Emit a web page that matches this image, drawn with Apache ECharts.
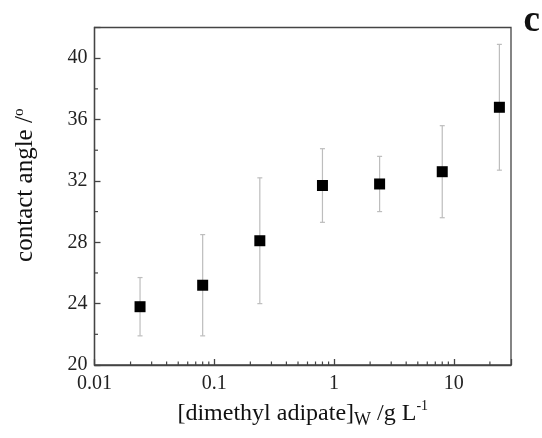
<!DOCTYPE html>
<html>
<head>
<meta charset="utf-8">
<script src="https://cdn.jsdelivr.net/npm/echarts@6/dist/echarts.min.js"></script>
<style>html,body{margin:0;padding:0;background:#fff;}#c{width:542px;height:438px;}</style>
</head>
<body>
<div id="c"></div>
<script>
// Data
const concentrations = [0.024, 0.08, 0.24, 0.8, 2.4, 8, 24];
const contactAngle  = [23.8, 25.2, 28.1, 31.7, 31.8, 32.6, 36.8];
const errLow        = [21.9, 21.9, 24.0, 29.3, 30.0, 29.6, 32.7];
const errHigh       = [25.7, 28.5, 32.2, 34.1, 33.6, 35.6, 40.9];
const xTickLabels   = ['0.01', '0.1', '1', '10'];
const yTickLabels   = ['20', '24', '28', '32', '36', '40'];
const xMinorTicks   = [0.02,0.03,0.04,0.05,0.06,0.07,0.08,0.09,
                       0.2,0.3,0.4,0.5,0.6,0.7,0.8,0.9,
                       2,3,4,5,6,7,8,9,20];
const yMinorTicks   = [22, 26, 30, 34, 38];

const serif = 'Liberation Serif';
const axisColor = '#444';

const chart = echarts.init(document.getElementById('c'), null, {renderer: 'canvas'});

const pointData = concentrations.map((x, i) => [x, contactAngle[i]]);
const errData = concentrations.map((x, i) => [x, errLow[i], errHigh[i]]);

const option = {
  animation: false,
  backgroundColor: '#fff',
  grid: {
    left: 94.5, right: 31, top: 27.5, bottom: 73,
    show: true, borderColor: axisColor, borderWidth: 1.3, backgroundColor: 'transparent'
  },
  xAxis: {
    type: 'log',
    logBase: 10,
    min: 0.01,
    max: 30,
    name: '[dimethyl adipate]{sub|W} /g L{sup|-1}',
    nameLocation: 'middle',
    nameGap: 34,
    nameTextStyle: {
      fontFamily: serif, fontSize: 24, color: '#111', lineHeight: 30, verticalAlign: 'middle',
      rich: {
        sub: {fontFamily: serif, fontSize: 18, color: '#111', lineHeight: 16, verticalAlign: 'bottom'},
        sup: {fontFamily: serif, fontSize: 14, color: '#111', lineHeight: 16, verticalAlign: 'top'}
      }
    },
    axisLine: {lineStyle: {color: axisColor, width: 1.3}},
    axisTick: {inside: true, length: 6, lineStyle: {color: axisColor, width: 1.3}},
    splitLine: {show: false},
    axisLabel: {
      fontFamily: serif, fontSize: 20, color: '#222', margin: 9,
      formatter: function (v) {
        const s = String(+v.toPrecision(6));
        return xTickLabels.indexOf(s) >= 0 ? s : '';
      }
    }
  },
  yAxis: {
    type: 'value',
    min: 20,
    max: 42,
    interval: 4,
    name: 'contact angle /{sup|o}',
    nameLocation: 'middle',
    nameGap: 55,
    nameTextStyle: {
      fontFamily: serif, fontSize: 25, color: '#111', lineHeight: 28,
      padding: [0, 0, 0, 22],
      rich: {
        sup: {fontFamily: serif, fontSize: 15, color: '#111', lineHeight: 14, verticalAlign: 'top'}
      }
    },
    axisLine: {show: true, lineStyle: {color: axisColor, width: 1.3}},
    axisTick: {inside: true, length: 6, lineStyle: {color: axisColor, width: 1.3}},
    splitLine: {show: false},
    axisLabel: {
      fontFamily: serif, fontSize: 20, color: '#222', margin: 7,
      formatter: function (v) {
        const s = String(v);
        return yTickLabels.indexOf(s) >= 0 ? s : '';
      }
    }
  },
  graphic: [{
    type: 'text', right: 2, top: 3,
    style: {text: 'c', fontFamily: serif, fontSize: 37, fontWeight: 'bold', fill: '#111'}
  }],
  series: [
    {
      type: 'custom',
      name: 'xMinor',
      silent: true,
      data: xMinorTicks.map(v => [v]),
      renderItem: function (params, api) {
        const p = api.coord([api.value(0), 20]);
        return {type: 'line', shape: {x1: p[0], y1: p[1], x2: p[0], y2: p[1] - 3.5},
                style: {stroke: axisColor, lineWidth: 1.2}};
      },
      encode: {x: 0}
    },
    {
      type: 'custom',
      name: 'yMinor',
      silent: true,
      data: yMinorTicks.map(v => [0.01, v]),
      renderItem: function (params, api) {
        const p = api.coord([api.value(0), api.value(1)]);
        return {type: 'line', shape: {x1: p[0], y1: p[1], x2: p[0] + 3.5, y2: p[1]},
                style: {stroke: axisColor, lineWidth: 1.2}};
      },
      encode: {x: 0, y: 1}
    },
    {
      type: 'custom',
      name: 'errors',
      silent: true,
      data: errData,
      renderItem: function (params, api) {
        const lo = api.coord([api.value(0), api.value(1)]);
        const hi = api.coord([api.value(0), api.value(2)]);
        const w = 2.5;
        const st = {stroke: '#bdbdbd', lineWidth: 1.2};
        return {type: 'group', children: [
          {type: 'line', shape: {x1: lo[0], y1: lo[1], x2: hi[0], y2: hi[1]}, style: st},
          {type: 'line', shape: {x1: lo[0] - w, y1: lo[1], x2: lo[0] + w, y2: lo[1]}, style: st},
          {type: 'line', shape: {x1: hi[0] - w, y1: hi[1], x2: hi[0] + w, y2: hi[1]}, style: st}
        ]};
      },
      encode: {x: 0, y: [1, 2]}
    },
    {
      type: 'scatter',
      name: 'contact angle',
      data: pointData,
      symbol: 'rect',
      symbolSize: 11,
      itemStyle: {color: '#000', opacity: 1},
      z: 5
    }
  ]
};
chart.setOption(option);
</script>
</body>
</html>
